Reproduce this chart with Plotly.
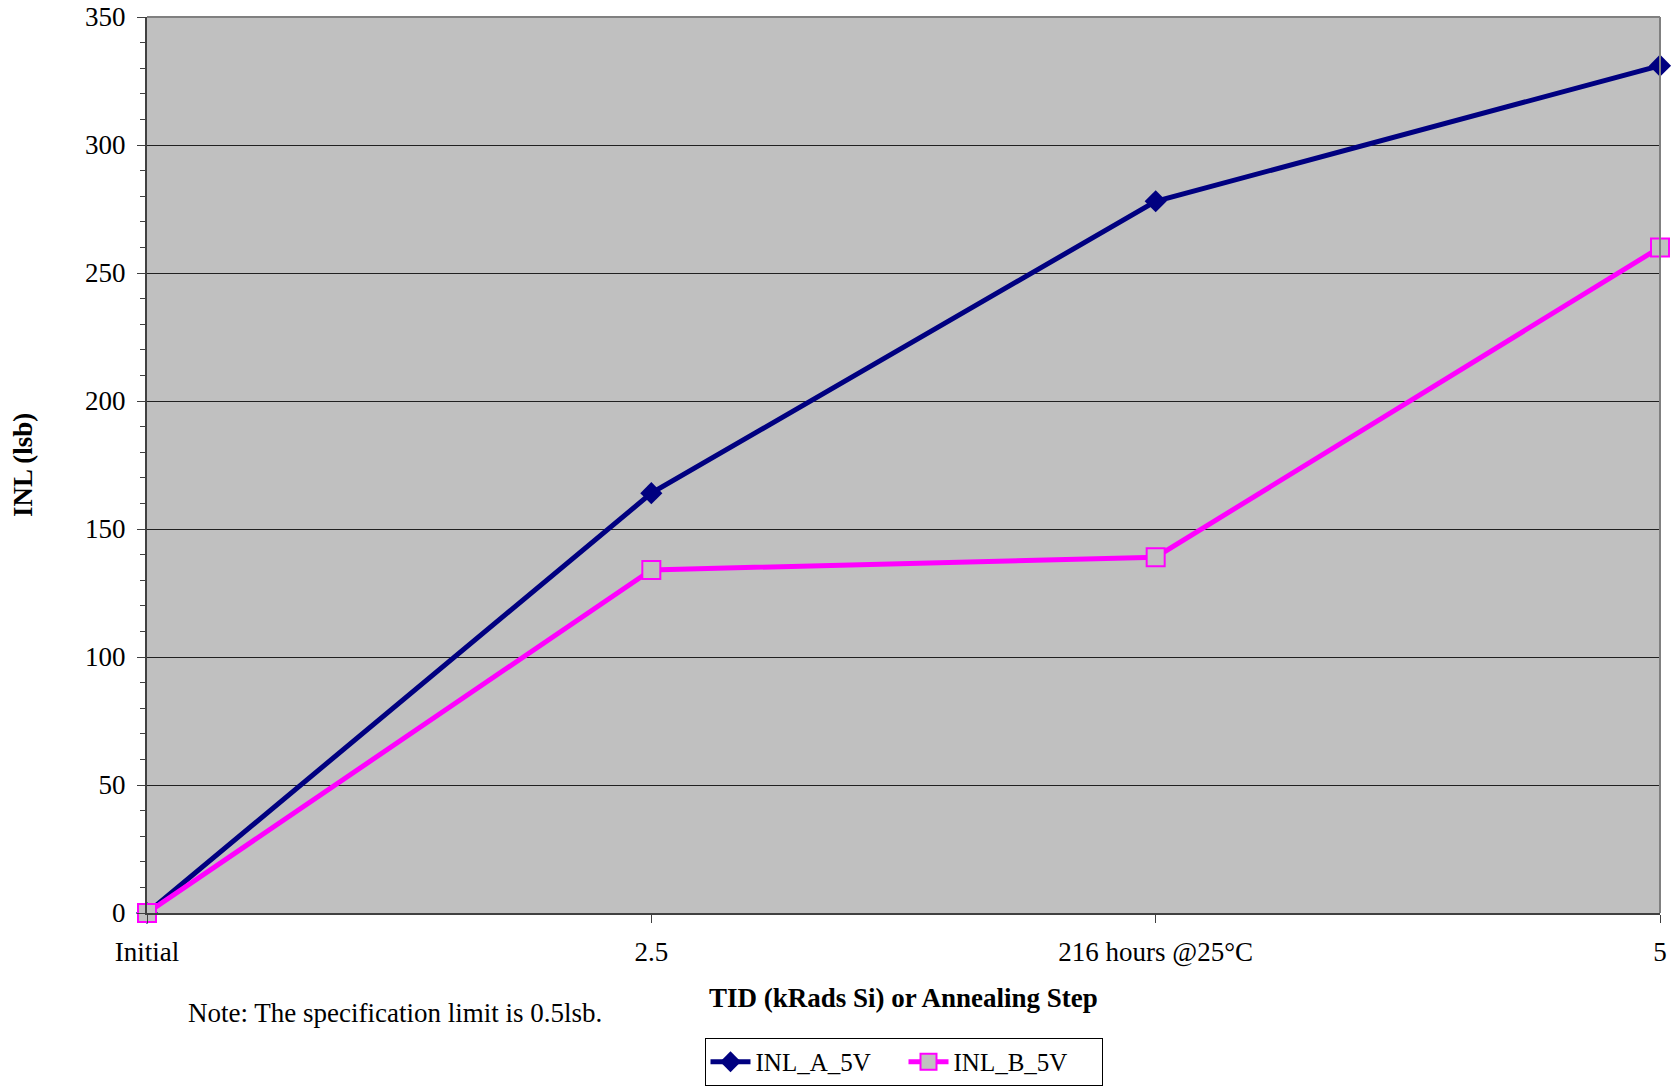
import plotly.graph_objects as go

categories = ["Initial", "2.5", "216 hours @25°C", "5"]
inl_a_5v = [0, 164, 278, 331]
inl_b_5v = [0, 134, 139, 260]

FONT = "Liberation Serif, Times New Roman, serif"

fig = go.Figure()
fig.add_trace(go.Scatter(
    x=categories, y=inl_a_5v, name="INL_A_5V", mode="lines+markers",
    line=dict(color="#000080", width=5),
    marker=dict(symbol="diamond", size=17, color="#000080"),
    cliponaxis=False,
))
fig.add_trace(go.Scatter(
    x=categories, y=inl_b_5v, name="INL_B_5V", mode="lines+markers",
    line=dict(color="#FF00FF", width=5),
    marker=dict(symbol="square", size=18, color="#C0C0C0",
                line=dict(color="#FF00FF", width=2)),
    cliponaxis=False,
))

fig.update_layout(
    width=1674, height=1086,
    margin=dict(l=147, r=14, t=17, b=173, autoexpand=False),
    paper_bgcolor="white", plot_bgcolor="#C0C0C0",
    font=dict(family=FONT, size=27, color="black"),
    showlegend=True,
    legend=dict(orientation="h", x=0.5, xanchor="center", y=-0.1395, yanchor="top",
                bordercolor="black", borderwidth=1, bgcolor="white",
                font=dict(family=FONT, size=25), itemwidth=40,
                entrywidth=143, entrywidthmode="pixels",
                tracegroupgap=0),
)
fig.update_xaxes(
    type="category", range=[0, 3], showgrid=False, automargin=False,
    showline=True, linecolor="#404040", linewidth=2, mirror=False,
    ticks="outside", ticklen=8, tickcolor="#404040",
    ticklabelstandoff=6, ticklabeloverflow="allow",
    tickfont=dict(family=FONT, size=27),
    zeroline=False,
)
fig.update_yaxes(
    range=[0, 350], dtick=50, showgrid=True, gridcolor="#202020", gridwidth=1,
    automargin=False,
    showline=True, linecolor="#404040", linewidth=2,
    ticks="outside", ticklen=8, tickcolor="#404040",
    minor=dict(dtick=10, ticks="outside", ticklen=5, tickcolor="#404040", showgrid=False),
    tickfont=dict(family=FONT, size=27),
    ticklabelstandoff=6, ticklabeloverflow="allow",
    zeroline=False,
)
# top and right border
fig.add_shape(type="line", xref="paper", yref="paper", x0=0, x1=1, y0=1, y1=1,
              line=dict(color="#808080", width=2))
fig.add_shape(type="line", xref="paper", yref="paper", x0=1, x1=1, y0=0, y1=1,
              line=dict(color="#808080", width=2))

fig.add_annotation(text="<b>TID (kRads Si) or Annealing Step</b>", xref="paper", yref="paper",
                   x=0.5, y=-0.095, xanchor="center", yanchor="middle", showarrow=False,
                   font=dict(family=FONT, size=27))
fig.add_annotation(text="<b>INL (lsb)</b>", xref="paper", yref="paper",
                   x=-0.082, y=0.5, xanchor="center", yanchor="middle", showarrow=False,
                   textangle=-90, font=dict(family=FONT, size=27))
fig.add_annotation(text="Note: The specification limit is 0.5lsb.", xref="paper", yref="paper",
                   x=0.026, y=-0.1116, xanchor="left", yanchor="middle", showarrow=False,
                   font=dict(family=FONT, size=27))

# remove the page's default body margin so the figure fills the window exactly
fig.write_html("out.html", config={"displayModeBar": False},
               post_script="document.body.style.margin='0';document.body.style.overflow='hidden';")
